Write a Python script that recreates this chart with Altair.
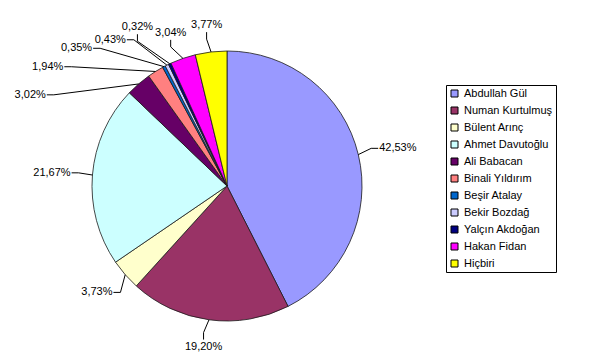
import math
import altair as alt
import pandas as pd

# ---- data ----
names = ["Abdullah Gül", "Numan Kurtulmuş", "Bülent Arınç", "Ahmet Davutoğlu",
         "Ali Babacan", "Binali Yıldırım", "Beşir Atalay", "Bekir Bozdağ",
         "Yalçın Akdoğan", "Hakan Fidan", "Hiçbiri"]
values = [42.53, 19.20, 3.73, 21.67, 3.02, 1.94, 0.35, 0.43, 0.32, 3.04, 3.77]
colors = ["#9999FF", "#993366", "#FFFFCC", "#CCFFFF", "#660066", "#FF8080",
          "#0066CC", "#CCCCFF", "#000080", "#FF00FF", "#FFFF00"]

# ---- layout ----
W, H = 574, 348
CX, CY, R = 219, 178, 135
FONT = "Liberation Sans"
GAP = 9.0           # min angular gap between neighbouring labels (deg)
LABEL_R = R + 22    # radius of label anchor
PUSH = 2.0          # extra radius per degree a label was displaced
BOX_H = 10


def label_text(v):
    return f"{v:.2f}".replace(".", ",") + "%"


def text_width(s):
    return sum(9.78 if c == "%" else 3.06 if c == "," else 6.12 for c in s)


n = len(values)
total = sum(values)
mids, cum = [], 0.0
for v in values:
    mids.append((cum + v / 2) / total * 360.0)
    cum += v

texts = [label_text(v) for v in values]
widths = [text_width(t) for t in texts]

# spread crowded labels counter-clockwise, starting from the top
order = sorted(range(n), key=lambda i: -mids[i])
ang = mids[:]
prev = None
for i in order:
    if prev is not None:
        ang[i] = min(mids[i], ang[prev] - GAP)
    prev = i


def make_box(i, a, r):
    p = math.radians(a)
    s, c = math.sin(p), math.cos(p)
    ax, ay = CX + r * s, CY - r * c
    return (ax + widths[i] / 2 * s, ay - BOX_H / 2 * c)


def overlaps(b1, w1, b2, w2, m=2):
    return (abs(b1[0] - b2[0]) < (w1 + w2) / 2 + m) and (abs(b1[1] - b2[1]) < BOX_H + m)


centers = [None] * n
placed = []
for i in order:
    r = LABEL_R + PUSH * (mids[i] - ang[i])
    while True:
        b = make_box(i, ang[i], r)
        if not any(overlaps(b, widths[i], pb, pw) for pb, pw in placed):
            break
        r += 1
    centers[i] = b
    placed.append((b, widths[i]))

text_rows, line_rows = [], []
for i in range(n):
    cx, cy = centers[i]
    p = math.radians(ang[i])
    s, c = math.sin(p), math.cos(p)
    text_rows.append({"x": cx, "y": cy, "t": texts[i]})
    if abs(s) > 0.5:
        sg = 1 if s > 0 else -1
        x1, y1 = cx - sg * widths[i] / 2 - sg * 1, cy
        x2, y2 = x1 - sg * 7, y1
    else:
        sg = 1 if c > 0 else -1
        x1, y1 = cx, cy + sg * (BOX_H / 2 + 2)
        x2, y2 = x1, y1 + sg * 7
    pm = math.radians(mids[i])
    x3, y3 = CX + R * math.sin(pm), CY - R * math.cos(pm)
    for k, (xx, yy) in enumerate([(x1, y1), (x2, y2), (x3, y3)]):
        line_rows.append({"id": i, "k": k, "x": xx, "y": yy})

pie_df = pd.DataFrame({"name": names, "value": values, "idx": list(range(n))})
text_df = pd.DataFrame(text_rows)
line_df = pd.DataFrame(line_rows)

xs = alt.Scale(domain=[0, W], range=[0, W], nice=False, zero=False)
ys = alt.Scale(domain=[0, H], range=[0, H], nice=False, zero=False)

pie = alt.Chart(pie_df).mark_arc(radius=R, stroke="#1a1a1a", strokeWidth=0.8).encode(
    theta=alt.Theta("value:Q", stack=True),
    order=alt.Order("idx:Q", sort="ascending"),
    color=alt.Color(
        "name:N",
        sort=names,
        scale=alt.Scale(domain=names, range=colors),
        legend=alt.Legend(
            orient="none", legendX=438, legendY=77, title=None,
            strokeColor="black", fillColor="white", padding=3,
            symbolType="square", symbolSize=49,
            symbolStrokeColor="black", symbolStrokeWidth=1,
            labelFont=FONT, labelFontSize=11, labelColor="black",
            rowPadding=5, labelOffset=4,
        ),
    ),
    x=alt.value(CX),
    y=alt.value(CY),
)

lines = alt.Chart(line_df).mark_line(color="black", strokeWidth=1).encode(
    x=alt.X("x:Q", scale=xs, axis=None),
    y=alt.Y("y:Q", scale=ys, axis=None),
    detail="id:N",
    order="k:Q",
)

labels = alt.Chart(text_df).mark_text(
    font=FONT, fontSize=11, color="black", align="center", baseline="middle"
).encode(
    x=alt.X("x:Q", scale=xs, axis=None),
    y=alt.Y("y:Q", scale=ys, axis=None),
    text="t:N",
)

chart = alt.layer(pie, lines, labels).properties(
    width=W, height=H, autosize=alt.AutoSizeParams(type="none"), padding=0
).configure_view(stroke=None)

chart.save("out.html", embed_options={"renderer": "svg", "actions": False})
